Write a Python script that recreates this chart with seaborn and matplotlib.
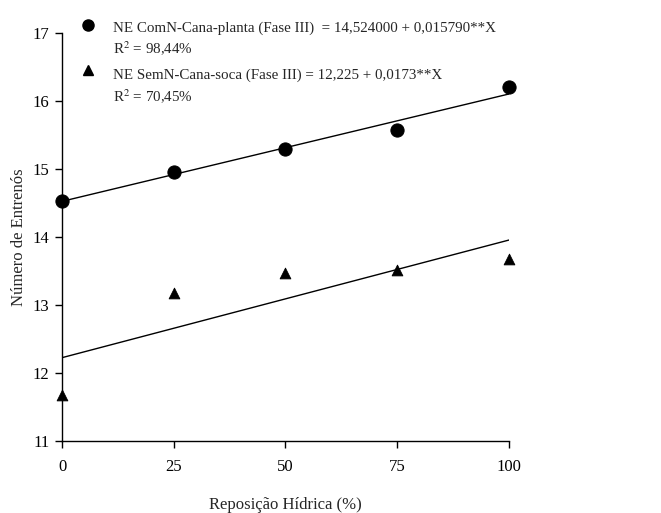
import numpy as np
import pandas as pd
import seaborn as sns
import matplotlib.pyplot as plt

# Reposição hídrica (%) e número de entrenós
reposicao = [0, 25, 50, 75, 100]
ne_planta = [14.53, 14.96, 15.30, 15.58, 16.20]
ne_soca = [11.68, 13.18, 13.47, 13.52, 13.68]

# coeficientes das regressões (intercepto, inclinação)
coef_planta = [14.524, 0.015790]
coef_soca = [12.225, 0.0173]

label_planta = "NE ComN-Cana-planta (Fase III)  = 14,524000 + 0,015790**X"
r2_planta = "R$^2$ = 98,44%"
label_soca = "NE SemN-Cana-soca (Fase III) = 12,225 + 0,0173**X"
r2_soca = "R$^2$ = 70,45%"

sns.set_style("ticks")
plt.rcParams['font.family'] = ['Liberation Serif', 'DejaVu Serif']
plt.rcParams['mathtext.fontset'] = 'stix'

df = pd.DataFrame({'x': reposicao, 'planta': ne_planta, 'soca': ne_soca})
xfit = np.array([0, 100])
fit = pd.DataFrame({'x': xfit,
                    'planta': coef_planta[0] + coef_planta[1] * xfit,
                    'soca': coef_soca[0] + coef_soca[1] * xfit})

fig = plt.figure(figsize=(6.61, 5.13), dpi=100)
ax = fig.add_axes([0.0938, 0.1404, 0.6762, 0.7953])

sns.lineplot(data=fit, x='x', y='planta', color='black', lw=1, ax=ax)
sns.lineplot(data=fit, x='x', y='soca', color='black', lw=1, ax=ax)
sns.scatterplot(data=df, x='x', y='planta', marker='o', s=90, color='black',
                edgecolor='black', ax=ax, clip_on=False, zorder=5)
sns.scatterplot(data=df, x='x', y='soca', marker='^', s=60, color='black',
                edgecolor='black', ax=ax, clip_on=False, zorder=5)

ax.set_xlim(0, 100)
ax.set_ylim(11, 17)
ax.set_xticks([0, 25, 50, 75, 100])
ax.set_yticks([11, 12, 13, 14, 15, 16, 17])
ax.tick_params(axis='both', direction='out', length=5, width=1, colors='black',
               labelsize=12)
ax.tick_params(axis='y', pad=4)
ax.tick_params(axis='x', pad=8)
for s in ['left', 'bottom']:
    ax.spines[s].set_linewidth(1)
    ax.spines[s].set_color('black')
sns.despine(ax=ax)

ax.set_xlabel('Reposição Hídrica (%)', fontsize=12, labelpad=16)
ax.set_ylabel('Número de Entrenós', fontsize=12, labelpad=4)

# legenda manual
ax.plot([0.058], [1.020], 'o', color='black', ms=8, transform=ax.transAxes, clip_on=False)
ax.plot([0.058], [0.909], '^', color='black', ms=7, transform=ax.transAxes, clip_on=False)
fs = 10.8
ax.text(0.114, 1.012, label_planta, transform=ax.transAxes, fontsize=fs, va='center')
ax.text(0.114, 0.961, r2_planta, transform=ax.transAxes, fontsize=fs, va='center')
ax.text(0.114, 0.897, label_soca, transform=ax.transAxes, fontsize=fs, va='center')
ax.text(0.114, 0.843, r2_soca, transform=ax.transAxes, fontsize=fs, va='center')

fig.savefig('out.png', dpi=100)
